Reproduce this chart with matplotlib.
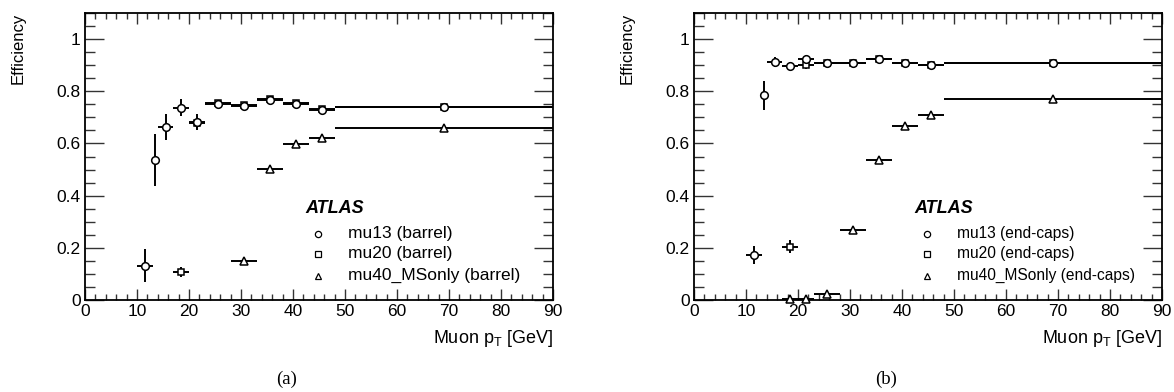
"""
ATLAS trigger efficiency vs muon pT, barrel (a) and end-caps (b).
"""

import matplotlib
matplotlib.use("Agg")
import matplotlib.pyplot as plt
from matplotlib.ticker import MultipleLocator

plt.rcParams["font.family"] = ["Liberation Sans", "DejaVu Sans"]
plt.rcParams["mathtext.fontset"] = "custom"
plt.rcParams["mathtext.rm"] = "Liberation Sans"
plt.rcParams["mathtext.it"] = "Liberation Sans:italic"

# ── data ─────────────────────────────────────────────────────
# bin edges shared by all triggers
bin_lo = [10, 13, 14, 17, 20, 23, 28, 33, 38, 43, 48]
bin_hi = [13, 14, 17, 20, 23, 28, 33, 38, 43, 48, 90]
bin_x = [11.5, 13.5, 15.5, 18.5, 21.5, 25.5, 30.5, 35.5, 40.5, 45.5, 69]

# barrel
b_mu13 = [0.132, 0.538, 0.663, 0.737, 0.682, 0.752, 0.745, 0.767, 0.753, 0.730, 0.740]
b_mu13_err = [0.063, 0.10, 0.048, 0.033, 0.030, 0.008, 0.008, 0.008, 0.008, 0.008, 0.006]
b_mu20 = [None, None, None, 0.108, 0.677, 0.754, 0.746, 0.769, 0.755, 0.731, 0.741]
b_mu20_err = [0, 0, 0, 0.020, 0.020, 0.008, 0.008, 0.008, 0.008, 0.008, 0.006]
b_mu40 = [None, None, None, None, None, None, 0.151, 0.501, 0.599, 0.619, 0.660]
b_mu40_err = [0, 0, 0, 0, 0, 0, 0.010, 0.010, 0.010, 0.010, 0.006]

# end-caps
e_mu13 = [0.172, 0.785, 0.912, 0.897, 0.924, 0.909, 0.908, 0.925, 0.910, 0.901, 0.910]
e_mu13_err = [0.035, 0.056, 0.020, 0.015, 0.015, 0.008, 0.008, 0.008, 0.008, 0.008, 0.006]
e_mu20 = [None, None, None, 0.204, 0.899, 0.909, 0.908, 0.925, 0.910, 0.901, 0.910]
e_mu20_err = [0, 0, 0, 0.025, 0.012, 0.008, 0.008, 0.008, 0.008, 0.008, 0.006]
e_mu40 = [None, None, None, 0.003, 0.005, 0.023, 0.267, 0.537, 0.667, 0.708, 0.769]
e_mu40_err = [0, 0, 0, 0.005, 0.005, 0.008, 0.010, 0.010, 0.010, 0.010, 0.006]

legend_names = ["mu13", "mu20", "mu40_MSonly"]
markers = ["o", "s", "^"]


def draw_series(ax, y, yerr, marker, ms):
    xs, ys, el, eh, ye = [], [], [], [], []
    for x, lo, hi, v, e in zip(bin_x, bin_lo, bin_hi, y, yerr):
        if v is None:
            continue
        xs.append(x)
        ys.append(v)
        el.append(x - lo)
        eh.append(hi - x)
        ye.append(e)
    ax.errorbar(xs, ys, xerr=[el, eh], yerr=ye, fmt=marker, ms=ms,
                mfc="white", mec="black", mew=1.1, ecolor="black",
                elinewidth=1.4, capsize=0, zorder=3, clip_on=False)


def style_axes(ax):
    ax.set_xlim(0, 90)
    ax.set_ylim(0, 1.1)
    ax.xaxis.set_major_locator(MultipleLocator(10))
    ax.xaxis.set_minor_locator(MultipleLocator(2))
    ax.yaxis.set_major_locator(MultipleLocator(0.2))
    ax.yaxis.set_minor_locator(MultipleLocator(0.05))
    ax.yaxis.set_major_formatter(plt.FuncFormatter(lambda v, p: f"{v:g}"))
    ax.tick_params(which="both", direction="in", top=True, right=True,
                   labelsize=12.5, width=1.0, color="#333333")
    ax.tick_params(axis="y", which="major", length=14, pad=3)
    ax.tick_params(axis="y", which="minor", length=7)
    ax.tick_params(axis="x", which="major", length=8, pad=3)
    ax.tick_params(axis="x", which="minor", length=4)
    for sp in ax.spines.values():
        sp.set_linewidth(1.3)


W, H = 1174, 392
fig = plt.figure(figsize=(W / 100, H / 100), dpi=100)

panels = [
    (85, "barrel", [b_mu13, b_mu20, b_mu40], [b_mu13_err, b_mu20_err, b_mu40_err], 12.5, "(a)", 287),
    (694, "end-caps", [e_mu13, e_mu20, e_mu40], [e_mu13_err, e_mu20_err, e_mu40_err], 11.2, "(b)", 886),
]

for left, region, ys, errs, leg_fs, tag, tag_x in panels:
    ax = fig.add_axes([left / W, (H - 300) / H, 468 / W, 287 / H])
    style_axes(ax)

    # triangles, squares, then circles on top
    draw_series(ax, ys[2], errs[2], "^", 5.5)
    draw_series(ax, ys[1], errs[1], "s", 5)
    draw_series(ax, ys[0], errs[0], "o", 5.5)

    ax.text(42.3, 0.335, "ATLAS", fontsize=13, fontweight="bold",
            fontstyle="italic", ha="left", va="baseline")
    for i, (name, mk) in enumerate(zip(legend_names, markers)):
        yy = [0.253, 0.177, 0.093][i]
        ax.plot([44.8], [yy], marker=mk, ms=4.5, mfc="white", mec="black",
                mew=0.9, ls="none")
        ax.text(50.6, yy, f"{name} ({region})", fontsize=leg_fs,
                ha="left", va="center")

    fig.text((left - 67) / W, 1 - 13 / H, "Efficiency", rotation=90,
             fontsize=12, ha="center", va="top")
    fig.text((left + 468) / W, 1 - 343 / H, r"Muon p$_{\mathrm{T}}$ [GeV]",
             fontsize=13, ha="right", va="baseline")
    fig.text(tag_x / W, 1 - 379 / H, tag, fontsize=13.5,
             family="Liberation Serif", ha="center", va="center")

fig.savefig("out.png", dpi=100)
